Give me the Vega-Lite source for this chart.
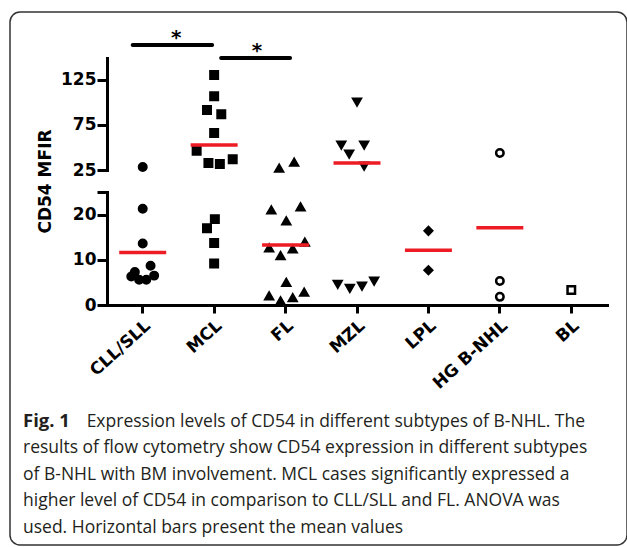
{
  "$schema": "https://vega.github.io/schema/vega-lite/v6.json",
  "width": 617,
  "height": 533,
  "autosize": {"type": "none"},
  "padding": {"left": 10, "top": 12, "right": 0, "bottom": 2},
  "background": "white",
  "datasets": {
    "points": [
      {"group": "CLL/SLL", "value": 28.3, "dx": 0},
      {"group": "CLL/SLL", "value": 21.3, "dx": 0},
      {"group": "CLL/SLL", "value": 13.6, "dx": 0},
      {"group": "CLL/SLL", "value": 7.3, "dx": -0.11},
      {"group": "CLL/SLL", "value": 5.6, "dx": -0.05},
      {"group": "CLL/SLL", "value": 5.6, "dx": 0.05},
      {"group": "CLL/SLL", "value": 8.7, "dx": 0.11},
      {"group": "CLL/SLL", "value": 6.5, "dx": 0.16},
      {"group": "CLL/SLL", "value": 6.3, "dx": -0.16},
      {"group": "MCL", "value": 130.6, "dx": 0},
      {"group": "MCL", "value": 107, "dx": 0},
      {"group": "MCL", "value": 91.7, "dx": -0.1},
      {"group": "MCL", "value": 87, "dx": 0.1},
      {"group": "MCL", "value": 66, "dx": 0},
      {"group": "MCL", "value": 46.4, "dx": -0.245},
      {"group": "MCL", "value": 32.8, "dx": -0.08},
      {"group": "MCL", "value": 31.7, "dx": 0.08},
      {"group": "MCL", "value": 37, "dx": 0.26},
      {"group": "MCL", "value": 19.0, "dx": 0.01},
      {"group": "MCL", "value": 17.0, "dx": -0.1},
      {"group": "MCL", "value": 13.7, "dx": 0},
      {"group": "MCL", "value": 9.2, "dx": 0},
      {"group": "FL", "value": 26.9, "dx": -0.09},
      {"group": "FL", "value": 33.6, "dx": 0.12},
      {"group": "FL", "value": 21.0, "dx": -0.2},
      {"group": "FL", "value": 21.7, "dx": 0.21},
      {"group": "FL", "value": 18.6, "dx": 0.01},
      {"group": "FL", "value": 13.9, "dx": 0.27},
      {"group": "FL", "value": 12.6, "dx": -0.23},
      {"group": "FL", "value": 10.9, "dx": -0.07},
      {"group": "FL", "value": 12.4, "dx": 0.1},
      {"group": "FL", "value": 5.0, "dx": 0.01},
      {"group": "FL", "value": 2.0, "dx": -0.23},
      {"group": "FL", "value": 0.9, "dx": -0.07},
      {"group": "FL", "value": 1.6, "dx": 0.1},
      {"group": "FL", "value": 2.8, "dx": 0.26},
      {"group": "MZL", "value": 100.6, "dx": 0},
      {"group": "MZL", "value": 52.8, "dx": -0.22},
      {"group": "MZL", "value": 42.8, "dx": -0.11},
      {"group": "MZL", "value": 52.8, "dx": 0.1},
      {"group": "MZL", "value": 29.4, "dx": 0.1},
      {"group": "MZL", "value": 4.6, "dx": -0.27},
      {"group": "MZL", "value": 3.7, "dx": -0.1},
      {"group": "MZL", "value": 4.2, "dx": 0.07},
      {"group": "MZL", "value": 5.3, "dx": 0.24},
      {"group": "LPL", "value": 16.4, "dx": 0},
      {"group": "LPL", "value": 7.7, "dx": 0},
      {"group": "HG B-NHL", "value": 43.9, "dx": 0},
      {"group": "HG B-NHL", "value": 5.3, "dx": 0},
      {"group": "HG B-NHL", "value": 1.8, "dx": 0},
      {"group": "BL", "value": 3.3, "dx": 0}
    ],
    "means": [
      {"group": "CLL/SLL", "mean": 11.6},
      {"group": "MCL", "mean": 52.8},
      {"group": "FL", "mean": 13.3},
      {"group": "MZL", "mean": 32.8},
      {"group": "LPL", "mean": 12.1},
      {"group": "HG B-NHL", "mean": 17.1}
    ],
    "bar1": [{"group": "CLL/SLL", "group2": "MCL", "level": 163.9}],
    "bar2": [{"group": "MCL", "group2": "FL", "level": 149.4}],
    "stars": [
      {"group": "CLL/SLL", "label": "*", "level": 165, "dx": 0.47},
      {"group": "MCL", "label": "*", "level": 150.5, "dx": 0.6}
    ]
  },
  "title": {
    "text": "Fig. 1",
    "subtitle": [
      "\u200b\u00a0\u00a0\u00a0\u00a0\u00a0\u00a0\u00a0\u00a0\u00a0\u00a0\u00a0\u00a0\u00a0\u00a0Expression levels of CD54 in different subtypes of B-NHL. The",
      "results of flow cytometry show CD54 expression in different subtypes",
      "of B-NHL with BM involvement. MCL cases significantly expressed a",
      "higher level of CD54 in comparison to CLL/SLL and FL. ANOVA was",
      "used. Horizontal bars present the mean values"
    ],
    "orient": "bottom",
    "anchor": "start",
    "frame": "group",
    "offset": -133,
    "dx": 13,
    "font": "Open Sans",
    "fontSize": 18.5,
    "fontWeight": "bold",
    "color": "#231f20",
    "subtitleFont": "Open Sans",
    "subtitleFontSize": 17.5,
    "subtitleFontWeight": "normal",
    "subtitleColor": "#231f20",
    "subtitleLineHeight": 26.6,
    "subtitlePadding": -18
  },
  "encoding": {
    "x": {
      "field": "group",
      "type": "nominal",
      "sort": ["CLL/SLL", "MCL", "FL", "MZL", "LPL", "HG B-NHL", "BL"],
      "scale": {
        "domain": ["CLL/SLL", "MCL", "FL", "MZL", "LPL", "HG B-NHL", "BL"],
        "range": [97, 597],
        "paddingInner": 0,
        "paddingOuter": 0
      },
      "axis": {
        "title": null,
        "orient": "bottom",
        "offset": -240,
        "labelAngle": -42,
        "labelAlign": "right",
        "labelBaseline": "top",
        "tickSize": 8,
        "labelPadding": 4,
        "labelFontSize": 17
      }
    }
  },
  "layer": [
    {
      "data": {"name": "points"},
      "transform": [{"filter": "datum.value <= 25"}],
      "mark": {"type": "point", "filled": true, "stroke": "black", "strokeWidth": 2.5, "opacity": 1, "fillOpacity": 1},
      "encoding": {
        "xOffset": {"field": "dx", "type": "quantitative", "scale": {"domain": [-0.5, 0.5]}},
        "y": {
          "field": "value",
          "type": "quantitative",
          "scale": {"domain": [0, 25], "range": [293, 180], "nice": false, "zero": false},
          "axis": {
            "orient": "left",
            "offset": -97,
            "values": [0, 10, 20, 25],
            "labelExpr": "datum.value == 25 ? '' : datum.label",
            "title": "CD54 MFIR",
            "titleX": -62,
            "titleY": 169,
            "titleAngle": -90,
            "titleAlign": "center",
            "titleBaseline": "middle"
          }
        },
        "shape": {"field": "group", "type": "nominal", "legend": null,
          "scale": {"domain": ["CLL/SLL", "MCL", "FL", "MZL", "LPL", "HG B-NHL", "BL"],
                    "range": ["circle", "square", "triangle-up", "triangle-down", "diamond", "circle", "square"]}},
        "fill": {"field": "group", "type": "nominal", "legend": null,
          "scale": {"domain": ["CLL/SLL", "MCL", "FL", "MZL", "LPL", "HG B-NHL", "BL"],
                    "range": ["black", "black", "black", "black", "black", "white", "white"]}},
        "size": {"field": "group", "type": "nominal", "legend": null,
          "scale": {"domain": ["CLL/SLL", "MCL", "FL", "MZL", "LPL", "HG B-NHL", "BL"],
                    "range": [56, 56, 70, 70, 42, 67, 77]}}
      }
    },
    {
      "data": {"name": "points"},
      "transform": [{"filter": "datum.value > 25"}],
      "mark": {"type": "point", "filled": true, "stroke": "black", "strokeWidth": 2.5, "opacity": 1, "fillOpacity": 1},
      "encoding": {
        "xOffset": {"field": "dx", "type": "quantitative", "scale": {"domain": [-0.5, 0.5]}},
        "y": {
          "field": "value",
          "type": "quantitative",
          "scale": {"domain": [25, 149.4], "range": [158, 46], "nice": false, "zero": false},
          "axis": {
            "orient": "left",
            "offset": -97,
            "values": [25, 75, 125],
            "title": null
          }
        },
        "shape": {"field": "group", "type": "nominal", "legend": null,
          "scale": {"domain": ["CLL/SLL", "MCL", "FL", "MZL", "LPL", "HG B-NHL", "BL"],
                    "range": ["circle", "square", "triangle-up", "triangle-down", "diamond", "circle", "square"]}},
        "fill": {"field": "group", "type": "nominal", "legend": null,
          "scale": {"domain": ["CLL/SLL", "MCL", "FL", "MZL", "LPL", "HG B-NHL", "BL"],
                    "range": ["black", "black", "black", "black", "black", "white", "white"]}},
        "size": {"field": "group", "type": "nominal", "legend": null,
          "scale": {"domain": ["CLL/SLL", "MCL", "FL", "MZL", "LPL", "HG B-NHL", "BL"],
                    "range": [56, 56, 70, 70, 42, 67, 77]}}
      }
    },
    {
      "data": {"name": "means"},
      "transform": [{"filter": "datum.mean <= 25"}],
      "mark": {"type": "tick", "color": "#ed1c24", "size": 47, "thickness": 3.5, "opacity": 1},
      "encoding": {
        "y": {"field": "mean", "type": "quantitative",
          "scale": {"domain": [0, 25], "range": [293, 180], "nice": false, "zero": false}, "axis": null}
      }
    },
    {
      "data": {"name": "means"},
      "transform": [{"filter": "datum.mean > 25"}],
      "mark": {"type": "tick", "color": "#ed1c24", "size": 47, "thickness": 3.5, "opacity": 1},
      "encoding": {
        "y": {"field": "mean", "type": "quantitative",
          "scale": {"domain": [25, 149.4], "range": [158, 46], "nice": false, "zero": false}, "axis": null}
      }
    },
    {
      "data": {"name": "bar1"},
      "mark": {"type": "rule", "color": "black", "strokeWidth": 4, "strokeCap": "round", "xOffset": -10, "x2Offset": -2},
      "encoding": {
        "x2": {"field": "group2"},
        "y": {"field": "level", "type": "quantitative",
          "scale": {"domain": [25, 149.4], "range": [158, 46], "nice": false, "zero": false}, "axis": null}
      }
    },
    {
      "data": {"name": "bar2"},
      "mark": {"type": "rule", "color": "black", "strokeWidth": 4, "strokeCap": "round", "xOffset": 7, "x2Offset": 4.5},
      "encoding": {
        "x2": {"field": "group2"},
        "y": {"field": "level", "type": "quantitative",
          "scale": {"domain": [25, 149.4], "range": [158, 46], "nice": false, "zero": false}, "axis": null}
      }
    },
    {
      "data": {"name": "stars"},
      "mark": {"type": "text", "font": "DejaVu Sans", "fontWeight": "bold", "fontSize": 20, "color": "black", "baseline": "alphabetic", "align": "center"},
      "encoding": {
        "xOffset": {"field": "dx", "type": "quantitative", "scale": {"domain": [-0.5, 0.5]}},
        "text": {"field": "label"},
        "y": {"field": "level", "type": "quantitative",
          "scale": {"domain": [25, 149.4], "range": [158, 46], "nice": false, "zero": false}, "axis": null}
      }
    }
  ],
  "resolve": {"scale": {"y": "independent"}, "axis": {"y": "independent"}},
  "config": {
    "view": {"stroke": "#333333", "strokeWidth": 1.5, "cornerRadius": 10},
    "axis": {
      "grid": false,
      "domainColor": "black",
      "domainWidth": 3,
      "domainCap": "square",
      "tickColor": "black",
      "tickWidth": 3,
      "labelColor": "black",
      "labelFont": "DejaVu Sans",
      "labelFontWeight": "bold",
      "labelFontSize": 17,
      "titleColor": "black",
      "titleFont": "DejaVu Sans",
      "titleFontWeight": "bold",
      "titleFontSize": 17
    },
    "axisY": {"tickSize": 10, "labelPadding": 1}
  }
}
